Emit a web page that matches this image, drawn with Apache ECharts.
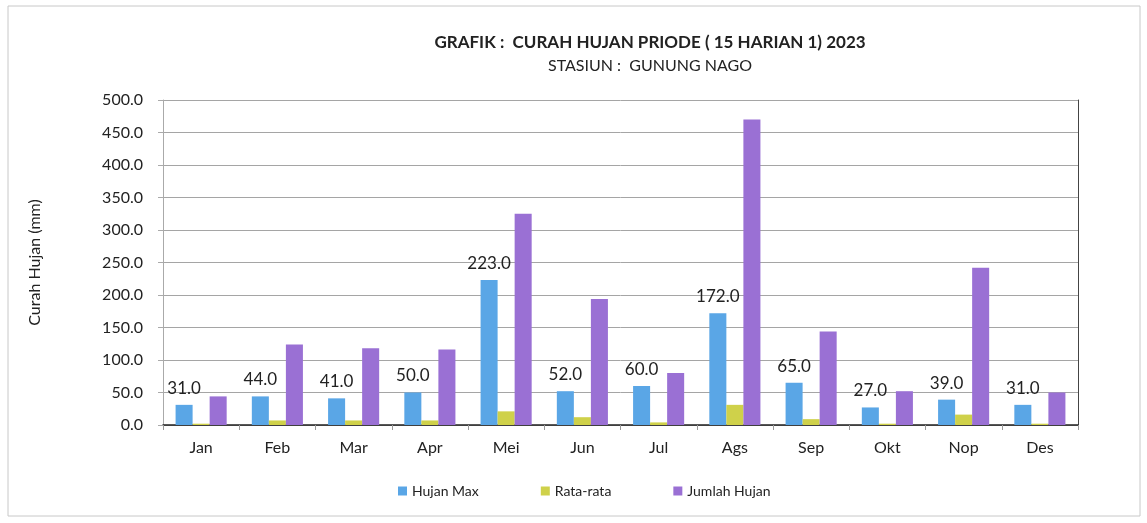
<!DOCTYPE html>
<html>
<head>
<meta charset="utf-8">
<title>Curah Hujan Gunung Nago 2023</title>
<script src="https://cdn.jsdelivr.net/npm/echarts@6/dist/echarts.min.js"></script>
<style>
  html, body { margin: 0; padding: 0; background: #fff; }
  #chart { width: 1147px; height: 523px; }
</style>
</head>
<body>
<div id="chart"></div>
<script>
// data
const months = ['Jan', 'Feb', 'Mar', 'Apr', 'Mei', 'Jun', 'Jul', 'Ags', 'Sep', 'Okt', 'Nop', 'Des']
const hujanMax = [31, 44, 41, 50, 223, 52, 60, 172, 65, 27, 39, 31]
const rataRata = [2, 7, 7, 7, 21, 12, 4, 31, 9, 2, 16, 2]
const jumlahHujan = [44, 124, 118, 116, 325, 194, 80, 470, 144, 52, 242, 50]

const font = 'Lato, "Open Sans", sans-serif'

const chart = echarts.init(document.getElementById('chart'))

const option = {
  animation: false,
  backgroundColor: '#fff',
  title: [
    {
      text: 'GRAFIK :  CURAH HUJAN PRIODE ( 15 HARIAN 1) 2023',
      left: 645,
      textAlign: 'center',
      top: 29,
      textStyle: { fontFamily: font, fontSize: 17, fontWeight: 'bold', color: '#222' }
    },
    {
      text: 'STASIUN :  GUNUNG NAGO',
      left: 645,
      textAlign: 'center',
      top: 53,
      textStyle: { fontFamily: font, fontSize: 16, fontWeight: 'normal', color: '#222' }
    }
  ],
  graphic: [
    {
      type: 'rect',
      shape: { x: 8, y: 6, width: 1132, height: 510 },
      style: { fill: 'none', stroke: '#c8c8c8', lineWidth: 1 },
      silent: true
    }
  ],
  legend: {
    bottom: 20,
    left: 393,
    itemWidth: 9,
    itemHeight: 9,
    itemGap: 62,
    icon: 'rect',
    textStyle: { fontFamily: font, fontSize: 14, color: '#222' },
    data: ['Hujan Max', 'Rata-rata', 'Jumlah Hujan']
  },
  grid: {
    left: 163,
    right: 69,
    top: 100,
    bottom: 98
  },
  xAxis: [
    {
      type: 'category',
      data: months,
      axisLine: { lineStyle: { color: '#999' } },
      axisTick: { show: true, alignWithLabel: false, length: 5, lineStyle: { color: '#999' } },
      axisLabel: { fontFamily: font, fontSize: 16, color: '#222', margin: 15 }
    },
    {
      type: 'category',
      position: 'top',
      data: months,
      axisLine: { lineStyle: { color: '#222', width: 1.5 } },
      axisTick: { show: false },
      axisLabel: { show: false }
    }
  ],
  yAxis: [
    {
      type: 'value',
      min: 0,
      max: 500,
      interval: 50,
      name: 'Curah Hujan (mm)',
      nameLocation: 'middle',
      nameGap: 120,
      nameTextStyle: { fontFamily: font, fontSize: 16, color: '#222' },
      axisLine: { show: true, lineStyle: { color: '#aaa' } },
      axisTick: { show: true, length: 5, lineStyle: { color: '#aaa' } },
      axisLabel: {
        fontFamily: font,
        fontSize: 16,
        color: '#222',
        margin: 20,
        formatter: v => v.toFixed(1)
      },
      splitLine: { lineStyle: { color: '#a5a5a5', width: 1 } }
    },
    {
      type: 'value',
      position: 'right',
      min: 0,
      max: 500,
      interval: 50,
      axisLine: { show: true, lineStyle: { color: '#444' } },
      axisTick: { show: false },
      axisLabel: { show: false },
      splitLine: { show: false }
    }
  ],
  series: [
    {
      name: 'Hujan Max',
      type: 'bar',
      data: hujanMax,
      barGap: '0%',
      barCategoryGap: '33%',
      itemStyle: { color: '#5aa6e6' },
      label: {
        show: true,
        position: 'top',
        distance: 8,
        fontFamily: font,
        fontSize: 17,
        color: '#222',
        formatter: p => p.value.toFixed(1)
      }
    },
    {
      name: 'Rata-rata',
      type: 'bar',
      data: rataRata,
      itemStyle: { color: '#cfd14a' }
    },
    {
      name: 'Jumlah Hujan',
      type: 'bar',
      data: jumlahHujan,
      itemStyle: { color: '#9a70d4' }
    }
  ]
}

chart.setOption(option)
</script>
</body>
</html>
